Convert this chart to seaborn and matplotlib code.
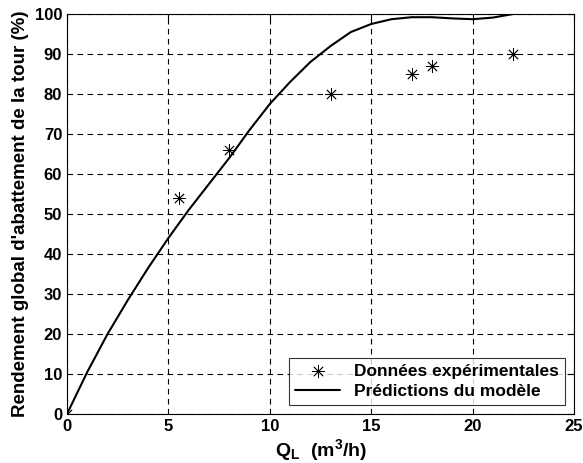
import matplotlib
matplotlib.use("Agg")
import matplotlib.pyplot as plt
import seaborn as sns
import pandas as pd

# experimental points
exp_q = [0, 5.5, 8, 13, 17, 18, 22]
exp_rend = [0, 54, 66, 80, 85, 87, 90]

# model curve
model_q = [0, 1, 2, 3, 4, 5, 6, 7, 8, 9, 10, 11, 12, 13, 14, 15, 16, 17, 18, 19, 20, 21, 22]
model_rend = [0, 10.5, 20, 28.5, 36.5, 44, 51, 57.5, 64, 71, 77.5, 83, 88, 92, 95.5,
              97.5, 98.7, 99.2, 99.2, 98.9, 98.7, 99.1, 100]

sns.set_style("white")
plt.rcParams["font.family"] = ["Liberation Sans", "DejaVu Sans"]
plt.rcParams["font.weight"] = "bold"
plt.rcParams["text.color"] = "black"
plt.rcParams["axes.labelcolor"] = "black"
plt.rcParams["xtick.color"] = "black"
plt.rcParams["ytick.color"] = "black"
plt.rcParams["mathtext.fontset"] = "custom"
plt.rcParams["mathtext.rm"] = "Liberation Sans:bold"
plt.rcParams["mathtext.it"] = "Liberation Sans:bold"
plt.rcParams["mathtext.bf"] = "Liberation Sans:bold"

df_exp = pd.DataFrame({"q": exp_q, "r": exp_rend})
df_mod = pd.DataFrame({"q": model_q, "r": model_rend})

fig = plt.figure(figsize=(5.83, 4.63), dpi=100)
ax = fig.add_axes([67 / 583, 49 / 463, 507 / 583, 400 / 463])

sns.scatterplot(data=df_exp, x="q", y="r", marker=(8, 2, 0), s=80, color="black",
                linewidth=0.6, label="Données expérimentales", ax=ax, zorder=3)
sns.lineplot(data=df_mod, x="q", y="r", color="black", linewidth=1.5,
             label="Prédictions du modèle", ax=ax, zorder=3)

ax.set_xlim(0, 25)
ax.set_ylim(0, 100)
ax.set_xticks(range(0, 26, 5))
ax.set_yticks(range(0, 101, 10))
ax.grid(True, linestyle=(0, (5, 4)), color="black", linewidth=0.8)
ax.tick_params(direction="in", top=True, right=True, length=4, labelsize=12)
for lab in ax.get_xticklabels() + ax.get_yticklabels():
    lab.set_fontweight("bold")
for sp in ax.spines.values():
    sp.set_color("black")
    sp.set_linewidth(0.8)

ax.set_xlabel("Q$_L$  (m$^3$/h)", fontsize=14, fontweight="bold", labelpad=2)
ax.set_ylabel("Rendement global d'abattement de la tour (%)", fontsize=13.5,
              fontweight="bold", labelpad=4)

leg = ax.legend(loc="lower right", fontsize=12.5, frameon=True, fancybox=False,
                edgecolor="black", borderaxespad=0.5, handlelength=2.6,
                borderpad=0.35, labelspacing=0.3)
leg.get_frame().set_linewidth(0.8)
for t in leg.get_texts():
    t.set_fontweight("bold")

fig.savefig("out.png", dpi=100)
